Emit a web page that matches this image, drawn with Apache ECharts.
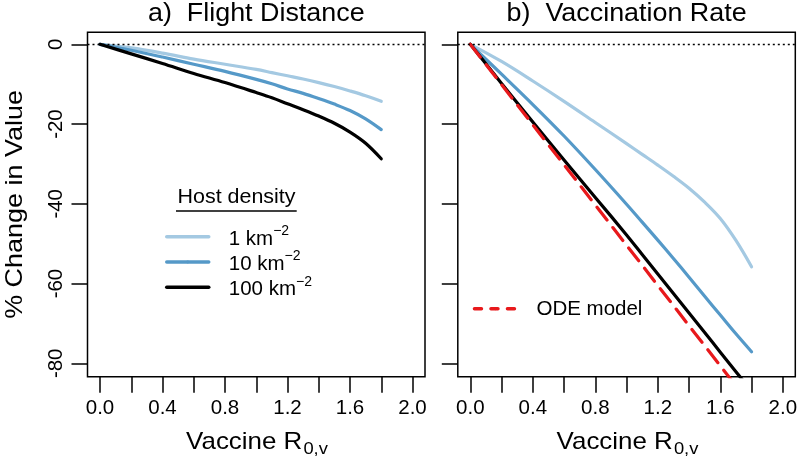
<!DOCTYPE html>
<html>
<head>
<meta charset="utf-8">
<script src="https://cdn.jsdelivr.net/npm/echarts@6/dist/echarts.min.js"></script>
<style>
  html, body { margin: 0; padding: 0; background: #fff; }
  #chart { width: 800px; height: 461px; }
</style>
</head>
<body>
<div id="chart"></div>
<script>
// ---- data ----
const xVals = [0, 0.2, 0.4, 0.6, 0.8, 1.0, 1.1, 1.2, 1.3, 1.4, 1.5, 1.6, 1.7, 1.8];

// a) Flight Distance
const flightLow  = [0, -0.9, -2.2, -3.7, -5.0, -6.3, -7.1, -7.9, -8.7, -9.6, -10.6, -11.7, -12.9, -14.3];
const flightMid  = [0, -1.5, -3.2, -5.0, -6.8, -8.8, -9.9, -11.2, -12.3, -13.6, -15.0, -16.6, -18.7, -21.4];
const flightHigh = [0, -2.4, -4.8, -7.3, -9.6, -12.1, -13.4, -14.9, -16.4, -18.0, -19.8, -22.0, -24.8, -28.7];

// b) Vaccination Rate
const vaccLow  = [0, -4.3, -9.2, -14.3, -19.6, -24.9, -27.6, -30.3, -33.1, -36.1, -39.6, -43.7, -49.2, -55.8];
const vaccMid  = [0, -7.5, -15.1, -23.0, -31.4, -40.1, -44.6, -49.1, -53.7, -58.4, -63.2, -67.9, -72.6, -77.1];
const vaccHigh = [0, -9.8, -19.5, -29.0, -38.4, -47.8, -52.7, -57.6, -62.5, -67.4, -72.3, -77.2, -82.1, -87.0];
const odeModel = [0, -10.1, -20.2, -30.2, -40.3, -50.4, -55.4, -60.5, -65.5, -70.6, -75.6, -80.6, -85.7, -90.7];

const densityNames = ['1 km⁻²', '10 km⁻²', '100 km⁻²'];
const odeName = 'ODE model';
const xTickValues = [0, 0.2, 0.4, 0.6, 0.8, 1.0, 1.2, 1.4, 1.6, 1.8, 2.0];
const xLabelValues = [0, 0.4, 0.8, 1.2, 1.6, 2.0];
const yTickValues = [-80, -60, -40, -20, 0];
const panelTitles = ['a)  Flight Distance', 'b)  Vaccination Rate'];
const yAxisTitle = '% Change in Value';
const xAxisTitleMain = 'Vaccine R';
const xAxisTitleSub = '0,v';
const legendTitle = 'Host density';

// ---- styling ----
const FONT_NAME = 'Liberation Sans';
const FONT = '"Liberation Sans", Arial, Helvetica, sans-serif';
const cLight = '#a4c9e2';
const cMid = '#5599c8';
const cDark = '#000000';
const cRed = '#e8191c';
const TICK_FS = 20.5;

const pairs = ys => xVals.map((x, i) => [x, ys[i]]);

const chart = echarts.init(document.getElementById('chart'), null, { renderer: 'canvas' });

function xAxisFor(gi) {
  return {
    type: 'value', gridIndex: gi, min: -0.08, max: 2.08,
    axisLine: { show: false, onZero: false },
    axisTick: { show: true, length: 16, customValues: xTickValues,
      lineStyle: { color: '#000', width: 1.5 } },
    axisLabel: { show: true, customValues: xLabelValues, margin: 21,
      formatter: v => Number(v).toFixed(1),
      color: '#000', fontSize: TICK_FS, fontFamily: FONT },
    splitLine: { show: false }
  };
}
function yAxisFor(gi, showLabels) {
  return {
    type: 'value', gridIndex: gi, min: -83.36, max: 3.01,
    axisLine: { show: false, onZero: false },
    axisTick: { show: true, length: 16, customValues: yTickValues,
      lineStyle: { color: '#000', width: 1.5 } },
    axisLabel: { show: showLabels, customValues: yTickValues, rotate: 90, margin: 21,
      color: '#000', fontSize: TICK_FS, fontFamily: FONT },
    splitLine: { show: false }
  };
}
function lineSeries(name, gi, ys, color, extra) {
  return Object.assign({
    type: 'line', name: name, xAxisIndex: gi, yAxisIndex: gi,
    data: pairs(ys), symbol: 'none', showSymbol: false,
    smooth: 0.35, clip: true,
    lineStyle: { color: color, width: 3.2, cap: 'round', join: 'round' },
    itemStyle: { color: color },
    emphasis: { disabled: true }, silent: true
  }, extra || {});
}
const zeroLine = {
  silent: true, symbol: ['none', 'none'], label: { show: false },
  lineStyle: { color: '#000', type: [2, 3], width: 1.3 },
  emphasis: { disabled: true },
  data: [{ yAxis: 0 }]
};

const legendRich = {
  pad: { width: 15, lineHeight: 25.3, fontFamily: FONT },
  b: { fontSize: 20.5, lineHeight: 20, verticalAlign: 'bottom', color: '#000', fontFamily: FONT },
  m: { fontSize: 20.5, lineHeight: 20, verticalAlign: 'middle', color: '#000', fontFamily: FONT },
  sup: { fontSize: 14, lineHeight: 17.5, verticalAlign: 'top', color: '#000', fontFamily: FONT }
};

// x-axis title with a lowered subscript: measure so the pair is centred
const measureCtx = document.createElement('canvas').getContext('2d');
function textWidth(txt, size) {
  measureCtx.font = size + 'px "' + FONT_NAME + '", Arial, sans-serif';
  return measureCtx.measureText(txt).width;
}
const NAME_FS = 24, SUB_FS = 17, NAME_SCALE = 1.08;
function xTitle(cx) {
  const w1 = textWidth(xAxisTitleMain, NAME_FS);
  const w2 = textWidth(xAxisTitleSub, SUB_FS);
  const start = -(w1 + w2 + 1) / 2;
  return {
    type: 'group', x: cx, y: 0, scaleX: NAME_SCALE, silent: true,
    children: [
      { type: 'text', style: { text: xAxisTitleMain, x: start, y: 442, fill: '#000',
          font: NAME_FS + 'px ' + FONT, align: 'left', verticalAlign: 'middle',
          textAlign: 'left', textVerticalAlign: 'middle' } },
      { type: 'text', style: { text: xAxisTitleSub, x: start + w1 + 1, y: 449, fill: '#000',
          font: SUB_FS + 'px ' + FONT, align: 'left', verticalAlign: 'middle',
          textAlign: 'left', textVerticalAlign: 'middle' } }
    ]
  };
}

const option = {
  animation: false,
  backgroundColor: '#fff',
  grid: [
    { left: 87.5, top: 32.3, width: 337.5, height: 344.4, show: true,
      borderColor: '#000', borderWidth: 1.5, backgroundColor: 'transparent',
      containLabel: false, outerBoundsMode: 'none' },
    { left: 457.8, top: 32.3, width: 337.5, height: 344.4, show: true,
      borderColor: '#000', borderWidth: 1.5, backgroundColor: 'transparent',
      containLabel: false, outerBoundsMode: 'none' }
  ],
  xAxis: [xAxisFor(0), xAxisFor(1)],
  yAxis: [yAxisFor(0, true), yAxisFor(1, false)],
  legend: [
    { data: densityNames, orient: 'vertical', left: 165, top: 224.05, padding: 0,
      itemGap: 0, itemWidth: 42, itemHeight: 3.5, selectedMode: false,
      lineStyle: { width: 3.5 },
      formatter: n => '{pad|}{b|' + n.replace('⁻²', '') + '}{sup|−2}',
      textStyle: { color: '#000', fontSize: 20.5, fontFamily: FONT, rich: legendRich } },
    { data: [odeName], orient: 'vertical', left: 472.7, top: 298.35, padding: 0,
      itemGap: 0, itemWidth: 42, itemHeight: 3.5, selectedMode: false,
      lineStyle: { width: 3.5, type: [7, 9.5], cap: 'round' },
      formatter: n => '{pad|}{m|' + n + '}',
      textStyle: { color: '#000', fontSize: 20.5, fontFamily: FONT, rich: legendRich } }
  ],
  series: [
    lineSeries(densityNames[0], 0, flightLow, cLight, { markLine: zeroLine }),
    lineSeries(densityNames[1], 0, flightMid, cMid),
    lineSeries(densityNames[2], 0, flightHigh, cDark),
    lineSeries(densityNames[0], 1, vaccLow, cLight, { markLine: zeroLine }),
    lineSeries(densityNames[1], 1, vaccMid, cMid),
    lineSeries(densityNames[2], 1, vaccHigh, cDark),
    lineSeries(odeName, 1, odeModel, cRed, {
      smooth: false,
      lineStyle: { color: cRed, width: 3.2, type: [16.3, 9.5], cap: 'round' }
    })
  ],
  graphic: [
    { type: 'text', x: 256.3, y: 14, scaleX: 1.075, silent: true,
      style: { text: panelTitles[0], x: 0, y: 0, fill: '#000', font: '25px ' + FONT,
        align: 'center', verticalAlign: 'middle', textAlign: 'center', textVerticalAlign: 'middle' } },
    { type: 'text', x: 626.6, y: 14, scaleX: 1.075, silent: true,
      style: { text: panelTitles[1], x: 0, y: 0, fill: '#000', font: '25px ' + FONT,
        align: 'center', verticalAlign: 'middle', textAlign: 'center', textVerticalAlign: 'middle' } },
    { type: 'text', x: 15.5, y: 204.5, rotation: Math.PI / 2, scaleX: 1.1, silent: true,
      style: { text: yAxisTitle, x: 0, y: 0, fill: '#000', font: '24.5px ' + FONT,
        align: 'center', verticalAlign: 'middle', textAlign: 'center', textVerticalAlign: 'middle' } },
    xTitle(257),
    xTitle(627.5),
    { type: 'text', x: 236.5, y: 198, scaleX: 1.1, silent: true,
      style: { text: legendTitle, x: 0, y: 0, fill: '#000', font: '19.5px ' + FONT,
        align: 'center', verticalAlign: 'middle', textAlign: 'center', textVerticalAlign: 'middle' } },
    { type: 'line', silent: true,
      shape: { x1: 176, y1: 211, x2: 296.7, y2: 211 },
      style: { stroke: '#000', lineWidth: 1.5 } }
  ]
};
chart.setOption(option);
</script>
</body>
</html>
